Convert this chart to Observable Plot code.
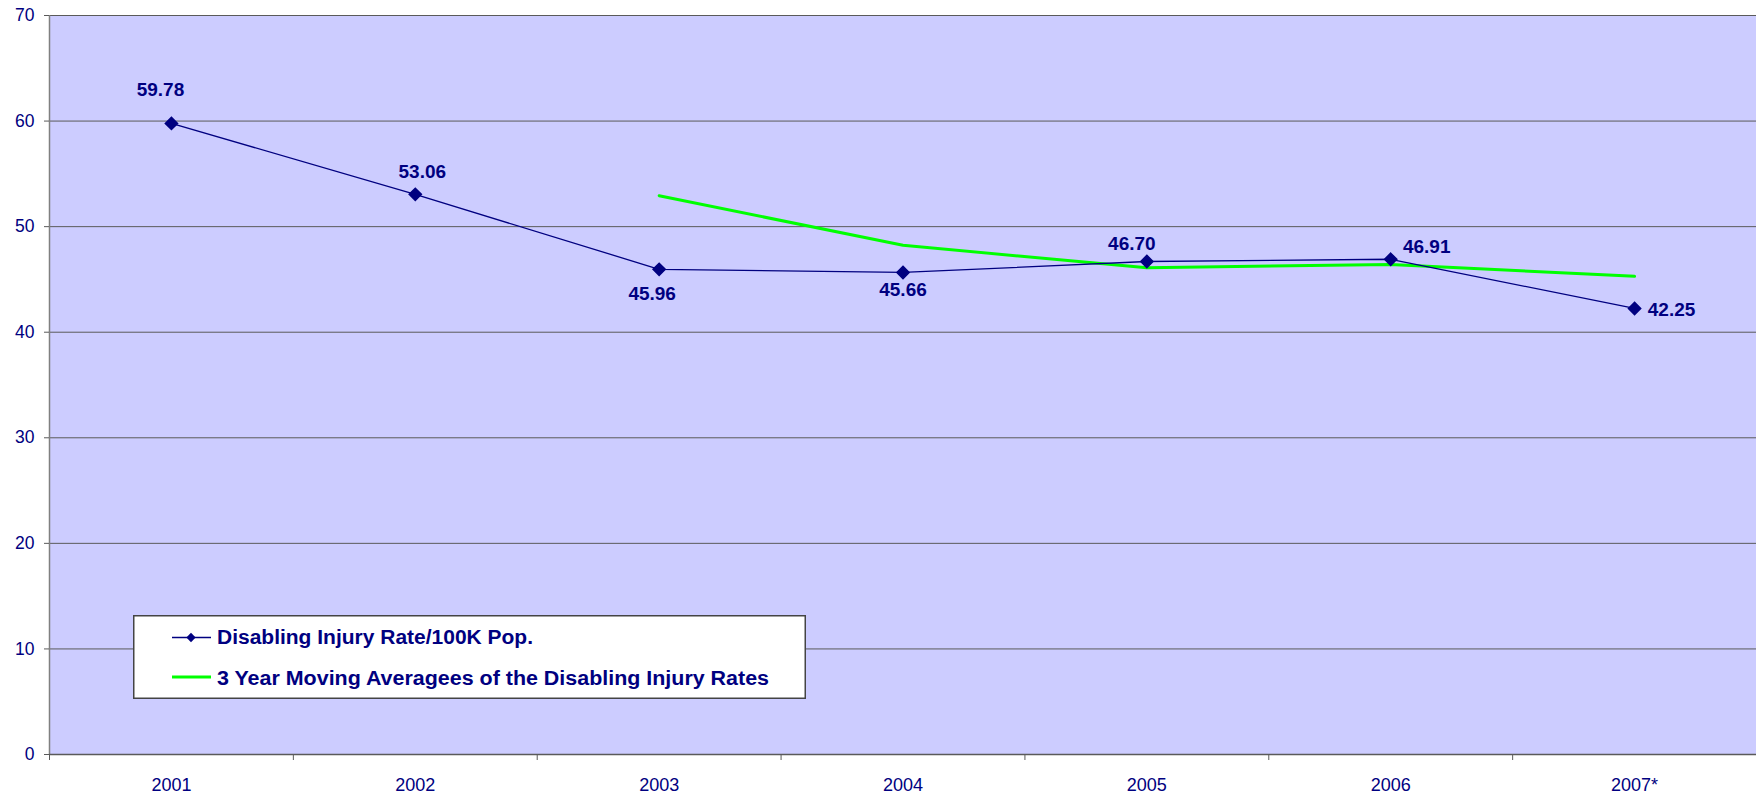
<!DOCTYPE html>
<html>
<head>
<meta charset="utf-8">
<script src="https://cdn.jsdelivr.net/npm/d3@7"></script>
<script src="https://cdn.jsdelivr.net/npm/@observablehq/plot@0.6"></script>
<style>
  html, body { margin: 0; padding: 0; background: #ffffff; }
  #wrap { position: relative; width: 1756px; height: 796px; }
</style>
</head>
<body>
<div id="wrap"></div>
<script>
// ---- data ----
const years = ["2001", "2002", "2003", "2004", "2005", "2006", "2007*"];
const injuryRate = [59.78, 53.06, 45.96, 45.66, 46.70, 46.91, 42.25];
const movingAvgYears = ["2003", "2004", "2005", "2006", "2007*"];
const movingAvg = [52.93, 48.23, 46.11, 46.42, 45.29];
const yTicks = [0, 10, 20, 30, 40, 50, 60, 70];
const seriesNames = ["Disabling Injury Rate/100K Pop.", "3 Year Moving Averagees of the Disabling Injury Rates"];

// ---- layout (label offsets in px, not data) ----
const labelOffsets = [[-11, -33], [7, -22], [-7, 25], [0, 17], [-15, -18], [36, -12], [37, 1]];

const NAVY = "#000080", GREEN = "#00FF00", GRID = "#5a5a5a", BG = "#CCCCFF";
const xi = y => years.indexOf(y) + 0.5;

const rate = years.map((y, i) => ({year: y, x: xi(y), value: injuryRate[i], i}));
const avg = movingAvgYears.map((y, i) => ({year: y, x: xi(y), value: movingAvg[i]}));

const labelMarks = rate.map((d, i) => Plot.text([d], {
  x: "x", y: "value", text: r => r.value.toFixed(2),
  dx: labelOffsets[i][0], dy: labelOffsets[i][1],
  fill: NAVY, fontWeight: "bold", fontSize: 19, textAnchor: "middle"
}));

const chart = Plot.plot({
  width: 1756, height: 796,
  marginLeft: 49, marginRight: 0, marginTop: 15, marginBottom: 42,
  style: {fontFamily: "'Liberation Sans', Arial, sans-serif", background: "transparent", color: NAVY},
  x: {type: "linear", domain: [0, years.length], axis: null},
  y: {domain: [0, 70], axis: null},
  marks: [
    Plot.frame({fill: BG, stroke: null}),
    Plot.gridY(yTicks.filter(t => t > 0), {stroke: GRID, strokeOpacity: 1, strokeWidth: 1}),
    Plot.ruleX([0], {stroke: "#808080", strokeWidth: 1.5}),
    Plot.ruleY([0], {stroke: GRID, strokeWidth: 1.5}),
    Plot.axisY({ticks: yTicks, label: null, tickSize: 5, tickPadding: 10, stroke: GRID, fill: NAVY, fontSize: 17.5, tickFormat: d => String(d)}),
    Plot.axisX({ticks: d3.range(0, years.length + 1), label: null, tickSize: 6, tickFormat: () => "", stroke: GRID}),
    Plot.axisX({ticks: years.map(xi), label: null, tickSize: 0, tickPadding: 24, fill: NAVY, fontSize: 18, tickFormat: v => years[Math.round(v - 0.5)]}),
    Plot.line(avg, {x: "x", y: "value", stroke: GREEN, strokeWidth: 3}),
    Plot.line(rate, {x: "x", y: "value", stroke: NAVY, strokeWidth: 1.3}),
    Plot.dot(rate, {x: "x", y: "value", symbol: "diamond2", r: 5.5, fill: NAVY, stroke: NAVY}),
    ...labelMarks
  ]
});
const wrap = document.getElementById("wrap");
wrap.appendChild(chart);

// ---- legend ----
const lw = 673, lh = 84;
const leg = d3.create("svg").attr("width", lw).attr("height", lh)
  .style("position", "absolute").style("left", "133px").style("top", "615px")
  .style("font-family", "'Liberation Sans', Arial, sans-serif");
leg.append("rect").attr("x", 0.75).attr("y", 0.75).attr("width", lw - 1.5).attr("height", lh - 1.5)
  .attr("fill", "#ffffff").attr("stroke", "#444").attr("stroke-width", 1.5);
// row 1
leg.append("line").attr("x1", 39).attr("x2", 78).attr("y1", 22.5).attr("y2", 22.5).attr("stroke", NAVY).attr("stroke-width", 1.3);
leg.append("path").attr("d", d3.symbol(d3.symbolDiamond2, 55)()).attr("transform", "translate(58,22.5)").attr("fill", NAVY);
leg.append("text").attr("x", 84).attr("y", 29).attr("font-size", 19.5).attr("font-weight", "bold").attr("fill", NAVY)
  .attr("textLength", 316).attr("lengthAdjust", "spacingAndGlyphs").text(seriesNames[0]);
// row 2
leg.append("line").attr("x1", 39).attr("x2", 78).attr("y1", 62).attr("y2", 62).attr("stroke", GREEN).attr("stroke-width", 3);
leg.append("text").attr("x", 84).attr("y", 70).attr("font-size", 19.5).attr("font-weight", "bold").attr("fill", NAVY)
  .attr("textLength", 552).attr("lengthAdjust", "spacingAndGlyphs").text(seriesNames[1]);
wrap.appendChild(leg.node());
</script>
</body>
</html>
